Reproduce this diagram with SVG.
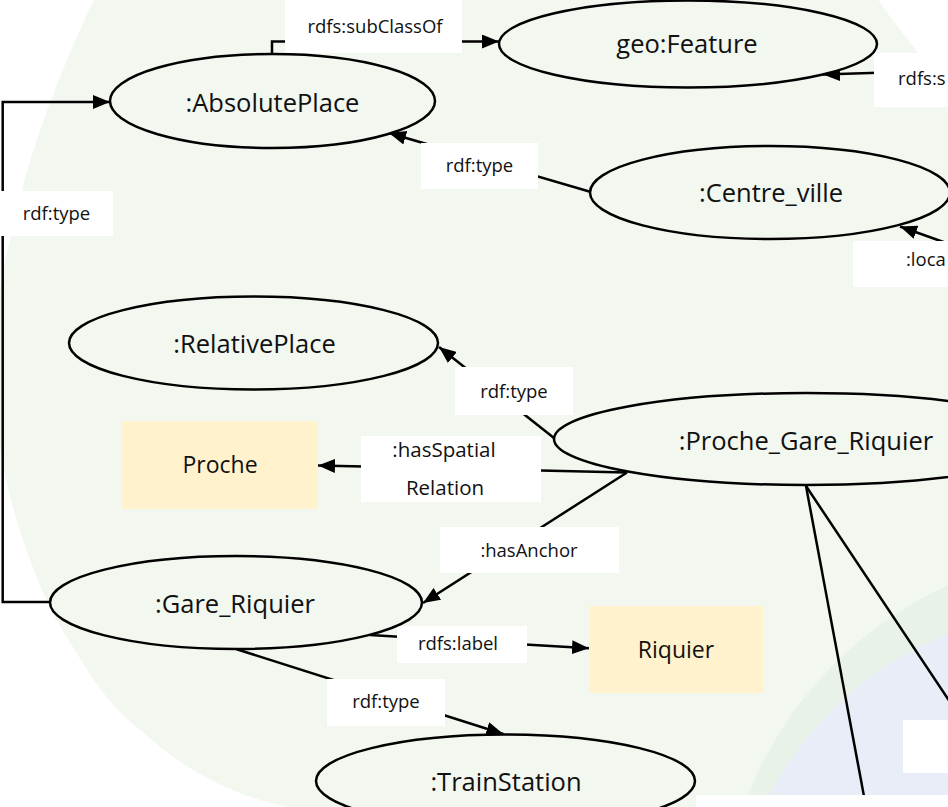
<svg xmlns="http://www.w3.org/2000/svg" width="948" height="807" viewBox="0 0 948 807">
  <style>
    .bg { fill: #f2f7ef; }
    .node ellipse { fill: #f2f7ef; stroke: #000; stroke-width: 2.5; }
    .lit rect { fill: #fff2cc; }
    .name { font-family: "Open Sans", "Liberation Sans", sans-serif; font-size: 25.5px; text-anchor: middle; fill: #111; }
    .litname { font-family: "Open Sans", "Liberation Sans", sans-serif; font-size: 23px; text-anchor: middle; fill: #111; }
    .lbl rect { fill: #fff; }
    .lbl text { font-family: "Open Sans", "Liberation Sans", sans-serif; font-size: 18.5px; text-anchor: middle; fill: #111; }
    .lbl text.start { text-anchor: start; }
    .lbl text.wide { font-size: 20.5px; }
    .edge { fill: none; stroke: #000; stroke-width: 2.5; }
    .arrow { marker-end: url(#head); }
  </style>
  <defs>
    <marker id="head" markerUnits="userSpaceOnUse" markerWidth="18" markerHeight="14" refX="17" refY="7" orient="auto">
      <path d="M0,0 L17,7 L0,14 Z" fill="#000"/>
    </marker>
  </defs>

  <!-- background shapes -->
  <g id="background">
    <path class="bg" d="M95,-2 C60,70 35,140 22,190 C8,245 -6,300 -6,367 C-6,430 5,490 25,545 C40,590 55,620 75,650 C95,685 115,710 140,730 C165,752 190,770 217,783 C245,797 275,805 310,812 L960,812 L960,110 C945,85 930,70 918,53 C905,35 890,18 877,-2 Z"/>
    <circle cx="1110" cy="940" r="390" fill="#e9f2e8"/>
    <circle cx="1080" cy="960" r="352" fill="#e9edf7"/>
  </g>

  <!-- connectors -->
  <g id="connectors">
    <path class="edge arrow" d="M272,55 V41.5 H499"/>
    <path class="edge arrow" d="M50,602 H2.7 V102 H110"/>
    <path class="edge arrow" d="M591,192 L389,133"/>
    <path class="edge arrow" d="M950,70.5 L823,74.5"/>
    <path class="edge arrow" d="M960,248 L900,226.5"/>
    <path class="edge arrow" d="M554,438 L439,347"/>
    <path class="edge arrow" d="M627,472.5 L318,465.5"/>
    <path class="edge arrow" d="M627,472.5 L423,603"/>
    <path class="edge arrow" d="M370,635 L589,648.3"/>
    <path class="edge arrow" d="M236.7,649.3 L503.3,734"/>
    <path class="edge" d="M806,486 L866,807"/>
    <path class="edge" d="M806,486 L960,717"/>
  </g>

  <!-- edge labels -->
  <g id="labels" class="lbl">
    <rect x="285" y="-5" width="177" height="58"/>
    <text x="375" y="33">rdfs:subClassOf</text>
    <rect x="0" y="191" width="113" height="45"/>
    <text x="56.5" y="220">rdf:type</text>
    <rect x="421" y="143" width="117" height="46"/>
    <text x="479.5" y="172">rdf:type</text>
    <rect x="874" y="53" width="80" height="54"/>
    <text class="start" x="898" y="85">rdfs:s</text>
    <rect x="853" y="241" width="100" height="46"/>
    <text class="start" x="906" y="266">:loca</text>
    <rect x="455" y="367" width="118" height="48"/>
    <text x="514" y="398">rdf:type</text>
    <rect x="361" y="436" width="180" height="66"/>
    <text class="wide" x="444" y="457">:hasSpatial</text>
    <text class="wide" x="445" y="495">Relation</text>
    <rect x="440" y="527" width="179" height="46"/>
    <text x="529" y="557">:hasAnchor</text>
    <rect x="397" y="626" width="130" height="37"/>
    <text x="458" y="650">rdfs:label</text>
    <rect x="327" y="679" width="118" height="47"/>
    <text x="386" y="708">rdf:type</text>
    <rect x="903" y="720" width="50" height="53"/>
    <rect x="696" y="795" width="260" height="20"/>
  </g>

  <!-- nodes -->
  <g id="absolutePlace" class="node">
    <ellipse cx="272.5" cy="101" rx="162.5" ry="47"/>
    <text class="name" x="272.5" y="111.5">:AbsolutePlace</text>
  </g>
  <g id="geoFeature" class="node">
    <ellipse cx="688" cy="44" rx="189" ry="43.5"/>
    <text class="name" x="687" y="52.5">geo:Feature</text>
  </g>
  <g id="centreVille" class="node">
    <ellipse cx="770" cy="192.5" rx="180" ry="46.5"/>
    <text class="name" x="771" y="201.5">:Centre_ville</text>
  </g>
  <g id="relativePlace" class="node">
    <ellipse cx="253.5" cy="343" rx="184.5" ry="46.5"/>
    <text class="name" x="254.5" y="353">:RelativePlace</text>
  </g>
  <g id="procheGareRiquier" class="node">
    <ellipse cx="806" cy="439" rx="252" ry="46"/>
    <text class="name" x="806" y="450">:Proche_Gare_Riquier</text>
  </g>
  <g id="gareRiquier" class="node">
    <ellipse cx="236" cy="602.5" rx="186" ry="46.5"/>
    <text class="name" x="235" y="613">:Gare_Riquier</text>
  </g>
  <g id="trainStation" class="node">
    <ellipse cx="505.5" cy="781" rx="189.5" ry="46.5"/>
    <text class="name" x="506" y="791">:TrainStation</text>
  </g>
  <g id="proche" class="lit">
    <rect x="122" y="421" width="196" height="88"/>
    <text class="litname" x="220" y="473">Proche</text>
  </g>
  <g id="riquier" class="lit">
    <rect x="589" y="606" width="174" height="87"/>
    <text class="litname" x="676" y="658">Riquier</text>
  </g>
</svg>
